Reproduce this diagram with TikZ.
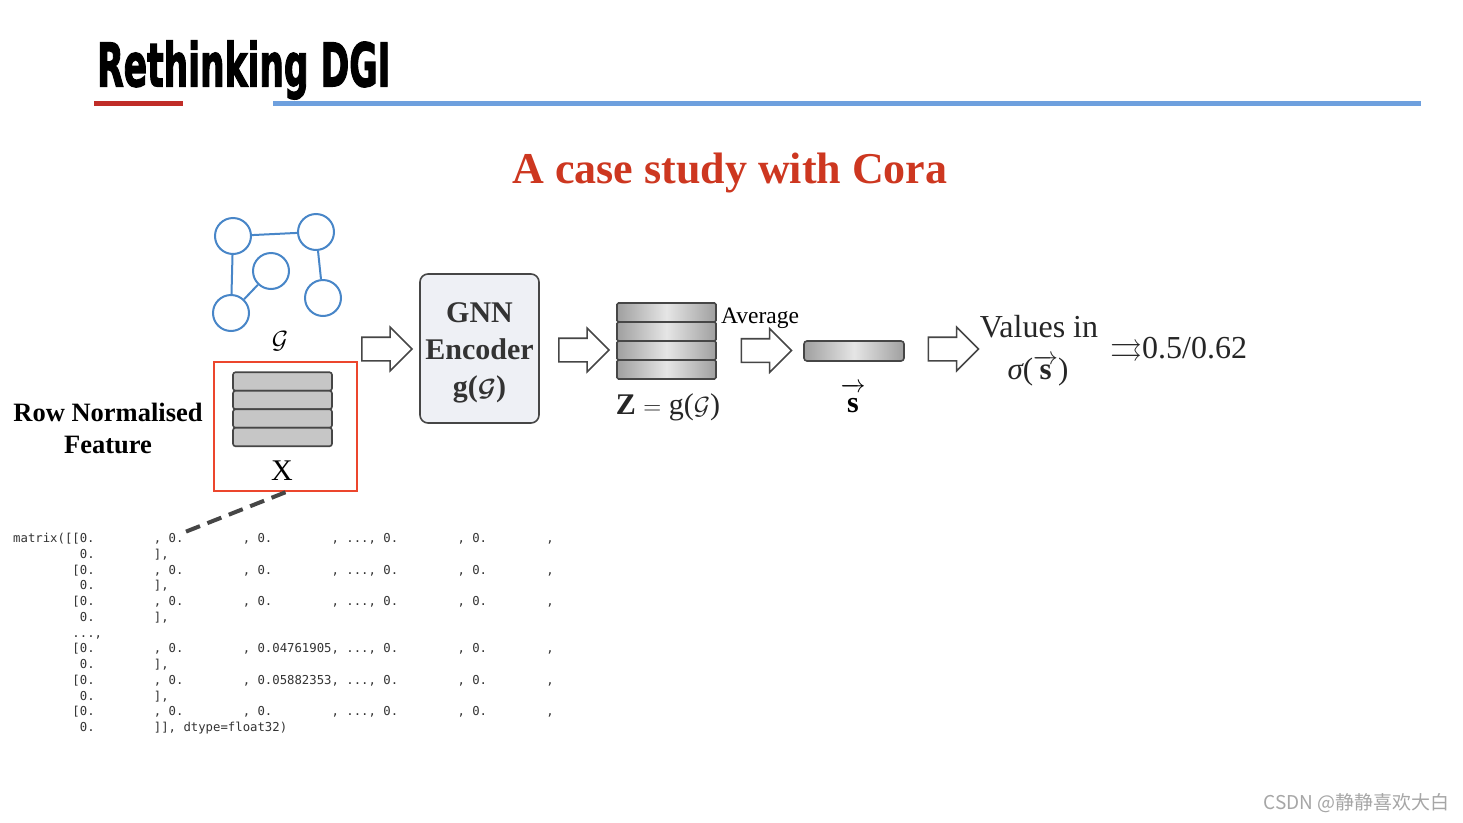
\documentclass[tikz,border=0pt]{standalone}
\usepackage{amsmath,amssymb,graphicx}
\usepackage{fontspec}
\setmainfont{Liberation Serif}
\newfontfamily\titlefont{DejaVu Sans}[BoldFeatures={FakeBold=2.5}]
\newfontfamily\matfont{DejaVu Sans Mono}
\newfontfamily\cjkfont{Noto Sans CJK SC}
\usetikzlibrary{shapes.arrows}
\definecolor{titlered}{RGB}{192,45,40}
\definecolor{lineblue}{RGB}{110,160,222}
\definecolor{headred}{RGB}{205,55,32}
\definecolor{boxred}{RGB}{236,70,45}
\definecolor{graphblue}{RGB}{72,134,200}
\definecolor{encfill}{RGB}{238,240,245}
\definecolor{edgegray}{RGB}{70,70,70}
\newlength\chw
\setlength\chw{7.405pt}
\newcommand\sk[1]{\hspace*{#1\chw}}
\newcommand\svec{\ensuremath{\overrightarrow{\hbox{\bfseries s}\vphantom{\hbox{\bfseries l}}}}}
\newcommand\svecshort{\ensuremath{\overrightarrow{\hbox{\bfseries s}}}}
\tikzset{
  gnode/.style={circle,draw=graphblue,line width=2pt,minimum size=36pt,inner sep=0pt},
  gedge/.style={draw=graphblue,line width=2pt},
  xstripe/.style={rectangle,rounded corners=2.5pt,draw=edgegray,line width=1.6pt,fill=gray!45,minimum width=99pt,minimum height=18.5pt,inner sep=0pt},
  zstripe/.style={rectangle,rounded corners=1.5pt,draw=edgegray,line width=1.6pt,left color=gray!75,right color=gray!75,middle color=gray!20,minimum width=99pt,minimum height=19pt,inner sep=0pt},
  blockarrow/.style={single arrow,draw=edgegray,line width=1.6pt,fill=white,minimum height=50pt,minimum width=42pt,inner sep=11pt,single arrow head extend=10pt},
  serif/.style={font=\fontsize{#1}{#1}\selectfont,inner sep=0pt},
}
\begin{document}
\begin{tikzpicture}[x=1pt,y=-1pt]
\useasboundingbox (0,0) rectangle (1463,822);
\fill[white] (0,0) rectangle (1463,822);
% title
\node[anchor=west,inner sep=0pt] (title) at (97,70) {\scalebox{0.575}[1]{\titlefont\bfseries\fontsize{60}{60}\selectfont Rethinking DGI}};
\draw[titlered,line width=5pt] (94,103) -- (183,103);
\draw[lineblue,line width=5pt] (273,103) -- (1421,103);
\node[inner sep=0pt,text=headred,font=\bfseries\fontsize{44}{44}\selectfont] (head) at (730,173) {A case study with Cora};
% graph
\node[gnode] (n1) at (233,236) {};
\node[gnode] (n2) at (316,232) {};
\node[gnode] (n3) at (271,271) {};
\node[gnode] (n4) at (231,313) {};
\node[gnode] (n5) at (323,298) {};
\draw[gedge] (n1) -- (n2);
\draw[gedge] (n1) -- (n4);
\draw[gedge] (n3) -- (n4);
\draw[gedge] (n2) -- (n5);
\node[serif=30] (glabel) at (280,341) {$\mathcal{G}$};
% feature box
\node[draw=boxred,line width=2.5pt,minimum width=143pt,minimum height=129pt,inner sep=0pt] (xbox) at (285.5,426.5) {};
\node[xstripe] (x1) at (282.5,381.5) {};
\node[xstripe] (x2) at (282.5,400) {};
\node[xstripe] (x3) at (282.5,418.5) {};
\node[xstripe] (x4) at (282.5,437) {};
\node[serif=30] (xlabel) at (282,471) {X};
\node[align=center,inner sep=0pt,font=\bfseries\fontsize{26.5}{32}\selectfont] (rowlab) at (108,428) {Row Normalised\\Feature};
% dashed pointer
\coordinate (mtip) at (185,532);
\draw[edgegray,line width=4pt,dash pattern=on 15pt off 8pt] (xbox.south) -- (mtip);
% matrix text
\node[anchor=north west,inner sep=0pt,align=left,text=black!80,font=\matfont\fontsize{12.3}{15.75}\selectfont] (mat) at (13,533) {%
matrix([[0.\sk{8}, 0.\sk{8}, 0.\sk{8}, ..., 0.\sk{8}, 0.\sk{8},\\
\sk{9}0.\sk{8}],\\
\sk{8}[0.\sk{8}, 0.\sk{8}, 0.\sk{8}, ..., 0.\sk{8}, 0.\sk{8},\\
\sk{9}0.\sk{8}],\\
\sk{8}[0.\sk{8}, 0.\sk{8}, 0.\sk{8}, ..., 0.\sk{8}, 0.\sk{8},\\
\sk{9}0.\sk{8}],\\
\sk{8}...,\\
\sk{8}[0.\sk{8}, 0.\sk{8}, 0.04761905, ..., 0.\sk{8}, 0.\sk{8},\\
\sk{9}0.\sk{8}],\\
\sk{8}[0.\sk{8}, 0.\sk{8}, 0.05882353, ..., 0.\sk{8}, 0.\sk{8},\\
\sk{9}0.\sk{8}],\\
\sk{8}[0.\sk{8}, 0.\sk{8}, 0.\sk{8}, ..., 0.\sk{8}, 0.\sk{8},\\
\sk{9}0.\sk{8}]], dtype=float32)};
% arrows
\node[blockarrow] (a1) at (381,349) {};
\node[blockarrow] (a2) at (578,350) {};
\node[blockarrow] (a3) at (760.5,350.5) {};
\node[blockarrow] (a4) at (947.5,349) {};
% encoder
\node[draw=edgegray,line width=1.6pt,fill=encfill,rounded corners=8pt,minimum width=119pt,minimum height=149pt,inner sep=0pt] (enc) at (479.5,348.5) {};
\node[align=center,inner sep=0pt,font=\bfseries\fontsize{30}{37}\selectfont,text=black!80] (enctext) at (479.5,353) {GNN\\Encoder\\g($\boldsymbol{\mathcal{G}}$)};
% Z stack
\node[zstripe] (z1) at (666.5,312.5) {};
\node[zstripe] (z2) at (666.5,331.5) {};
\node[zstripe] (z3) at (666.5,350.5) {};
\node[zstripe] (z4) at (666.5,369.5) {};
\node[anchor=west,serif=23.5] (avg) at (721,318) {Average};
\node[serif=30,text=black!85] (zlabel) at (668,407) {{\bfseries Z} $=$ g($\mathcal{G}$)};
% s bar
\node[rectangle,rounded corners=3pt,draw=edgegray,line width=1.6pt,left color=gray!75,right color=gray!75,middle color=gray!20,minimum width=100pt,minimum height=20pt,inner sep=0pt] (sbar) at (854,351) {};
\node[serif=30] (slabel) at (853,398) {\svec};
% values
\node[serif=32,text=black!85] (vals) at (1039,327) {Values in};
\node[serif=31,text=black!85] (sig) at (1038,371) {{\itshape σ}(\svecshort)};
\node[anchor=west,inner sep=0pt,font=\fontsize{32}{32}\selectfont,text=black!85] (res) at (1110,351) {$\rightrightarrows$0.5/0.62};
% watermark
\node[anchor=east,inner sep=0pt,text=gray!70,font=\cjkfont\fontsize{19}{19}\selectfont] (wm) at (1450,803) {CSDN @静静喜欢大白};
\end{tikzpicture}
\end{document}
